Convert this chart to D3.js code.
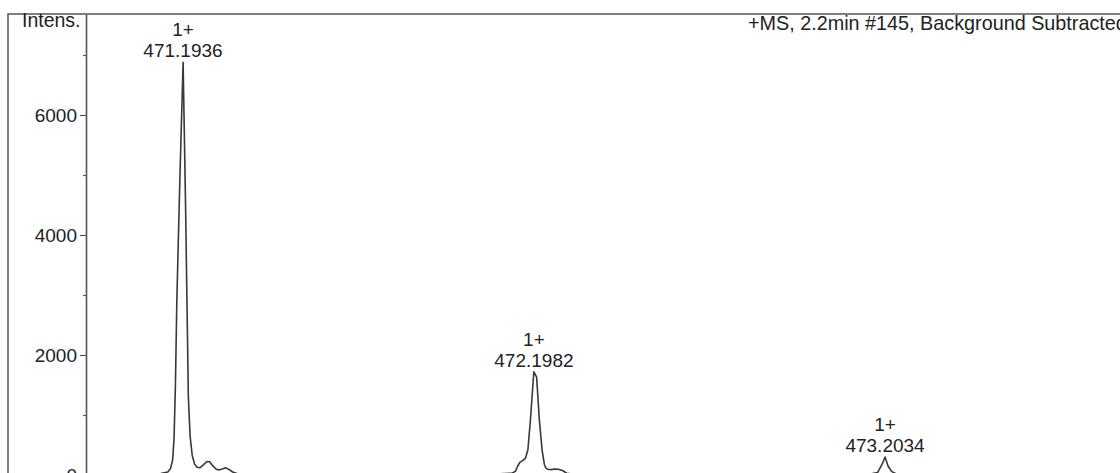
<!DOCTYPE html>
<html>
<head>
<meta charset="utf-8">
<script src="https://cdn.jsdelivr.net/npm/d3@7"></script>
<style>
  html, body { margin: 0; padding: 0; background: #fff; }
  svg { display: block; }
  text { font-family: "Liberation Sans", Arial, sans-serif; fill: #222; }
</style>
</head>
<body>
<svg id="chart"></svg>
<script>
const [width, height] = [1120, 473];

// profile spectrum (m/z, intensity)
const profileMz = [
  470.916, 471.00, 471.06, 471.10, 471.13, 471.150, 471.158, 471.164, 471.168, 471.172,
  471.176, 471.185, 471.194, 471.201, 471.205, 471.209, 471.214, 471.220, 471.227, 471.234,
  471.242, 471.252, 471.262, 471.270, 471.278, 471.288, 471.296, 471.306, 471.316, 471.326,
  471.336, 471.350, 471.60, 472.00, 472.10, 472.135, 472.145, 472.152, 472.158, 472.166,
  472.174, 472.181, 472.188, 472.198, 472.206, 472.214, 472.222, 472.228, 472.232, 472.238,
  472.248, 472.258, 472.268, 472.280, 472.292, 472.310, 472.70, 473.16, 473.182, 473.195,
  473.2034, 473.212, 473.222, 473.235, 473.30, 473.60, 473.876
];
const profileIntensity = [
  15, 20, 10, 20, 25, 50, 110, 250, 600, 1500,
  2900, 5000, 6880, 4500, 2900, 1300, 650, 330, 180, 130,
  120, 170, 225, 220, 160, 100, 85, 100, 120, 90,
  50, 20, 15, 15, 20, 30, 60, 150, 210, 240,
  280, 420, 900, 1720, 1630, 900, 400, 180, 120, 95,
  90, 100, 95, 75, 30, 15, 15, 15, 40, 180,
  300, 150, 60, 20, 15, 15, 15
];

// annotated peaks
const peakMz = [471.1936, 472.1982, 473.2034];
const peakIntensity = [6880, 1720, 300];
const peakCharge = ['1+', '1+', '1+'];
const peakLabels = ['471.1936', '472.1982', '473.2034'];

const yMajorTicks = [0, 2000, 4000, 6000];
const yMinorTicks = [1000, 3000, 5000, 7000];
const title = '+MS, 2.2min #145, Background Subtracted';

const frame = { left: 8, top: 14 };
const axisX = 86;

const svg = d3.select('#chart')
  .attr('width', width)
  .attr('height', height);

const x = d3.scaleLinear()
  .domain([470.916, 473.876])
  .range([axisX, width]);
const y = d3.scaleLinear()
  .domain([0, 7683])
  .range([475, frame.top]);

// outer frame
svg.append('path')
  .attr('fill', 'none')
  .attr('stroke', '#555')
  .attr('stroke-width', 1.5)
  .attr('d', `M${frame.left},${height + 5} L${frame.left},${frame.top} L${width + 5},${frame.top}`);

// y axis
const yAxis = svg.append('g')
  .attr('transform', `translate(${axisX},0)`)
  .call(d3.axisLeft(y).tickValues(yMajorTicks).tickSize(6).tickSizeOuter(0).tickPadding(3)
    .tickFormat(d3.format('d')));
yAxis.select('.domain').attr('stroke', '#555').attr('stroke-width', 1.6);
yAxis.selectAll('.tick line').attr('stroke', '#555').attr('stroke-width', 1.2);
yAxis.selectAll('.tick text')
  .attr('font-size', 19)
  .attr('font-family', '"Liberation Sans", Arial, sans-serif')
  .attr('fill', '#222');

svg.append('g')
  .attr('transform', `translate(${axisX},0)`)
  .call(d3.axisLeft(y).tickValues(yMinorTicks).tickSize(3).tickSizeOuter(0).tickFormat(''))
  .call(g => g.select('.domain').remove())
  .selectAll('.tick line').attr('stroke', '#555').attr('stroke-width', 1.2);

svg.append('text')
  .attr('x', 22)
  .attr('y', 27)
  .attr('font-size', 19.5)
  .text('Intens.');

svg.append('text')
  .attr('x', 748)
  .attr('y', 30)
  .attr('font-size', 19.8)
  .text(title);

// spectrum line
const profile = profileMz.map((m, i) => [m, profileIntensity[i]]);
svg.append('path')
  .datum(profile)
  .attr('fill', 'none')
  .attr('stroke', '#383838')
  .attr('stroke-width', 1.6)
  .attr('stroke-linejoin', 'round')
  .attr('d', d3.line()
    .x(d => x(d[0]))
    .y(d => y(d[1])));

// peak annotations
const peaks = svg.append('g').selectAll('g')
  .data(peakMz.map((m, i) => ({ mz: m, intensity: peakIntensity[i], charge: peakCharge[i], label: peakLabels[i] })))
  .join('g')
  .attr('transform', d => `translate(${x(d.mz)},${y(d.intensity)})`);
peaks.append('text')
  .attr('text-anchor', 'middle')
  .attr('y', -26)
  .attr('font-size', 19)
  .text(d => d.charge);
peaks.append('text')
  .attr('text-anchor', 'middle')
  .attr('y', -5)
  .attr('font-size', 19)
  .text(d => d.label);
</script>
</body>
</html>
